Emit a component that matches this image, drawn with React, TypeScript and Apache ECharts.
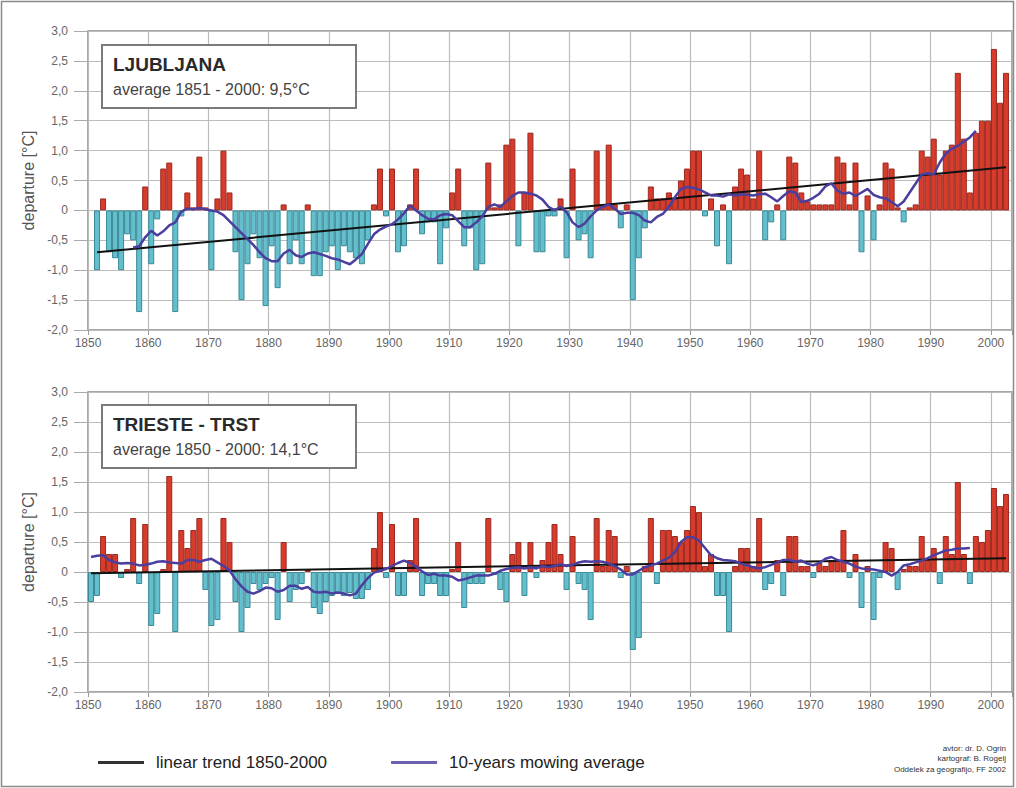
import React, { useEffect, useRef } from "react";
import * as echarts from "echarts";

// ---------- data ----------
const LJ_START = 1851;
const LJ_VALUES = [
  -1.0, 0.2, -0.7, -0.8, -1.0, -0.4, -0.5, -1.7, 0.4, -0.9,
  -0.15, 0.7, 0.8, -1.7, -0.1, 0.3, 0.05, 0.9, 0.05, -1.0,
  0.2, 1.0, 0.3, -0.7, -1.5, -0.9, -0.4, -0.8, -1.6, -0.6,
  -1.3, 0.1, -0.9, -0.5, -0.9, 0.1, -1.1, -1.1, -0.7, -0.6,
  -1.0, -0.6, -0.7, -0.8, -0.9, -0.5, 0.1, 0.7, -0.1, 0.7,
  -0.7, -0.6, 0.1, 0.7, -0.4, -0.2, -0.2, -0.9, -0.3, 0.3,
  0.7, -0.6, -0.3, -1.0, -0.9, 0.8, 0.05, 0.1, 1.1, 1.2,
  -0.6, 0.3, 1.3, -0.7, -0.7, -0.1, -0.1, 0.2, -0.8, 0.7,
  -0.5, -0.4, -0.8, 1.0, 0.1, 1.1, 0.1, -0.3, 0.1, -1.5,
  -0.8, -0.3, 0.4, 0.2, 0.2, 0.3, 0.2, 0.5, 0.7, 1.0,
  1.0, -0.1, 0.2, -0.6, 0.1, -0.9, 0.4, 0.7, 0.6, 0.2,
  1.0, -0.5, -0.2, 0.1, -0.5, 0.9, 0.8, 0.3, 0.15, 0.1,
  0.1, 0.1, 0.1, 0.9, 0.8, 0.1, 0.8, -0.7, 0.25, -0.5,
  0.1, 0.8, 0.7, 0.05, -0.2, 0.05, 0.1, 1.0, 0.9, 1.2,
  0.6, 1.0, 1.1, 2.3, 1.2, 0.3, 1.3, 1.5, 1.5, 2.7,
  1.8, 2.3,
];

const TS_START = 1850;
const TS_VALUES = [
  -0.5, -0.4, 0.6, 0.3, 0.3, -0.1, 0.05, 0.9, -0.2, 0.8,
  -0.9, -0.7, 0.05, 1.6, -1.0, 0.7, 0.4, 0.7, 0.9, -0.3,
  -0.9, -0.8, 0.9, 0.5, -0.5, -1.0, -0.6, -0.2, -0.3, -0.2,
  -0.1, -0.8, 0.5, -0.5, -0.3, -0.2, 0.05, -0.6, -0.7, -0.5,
  -0.4, -0.35, -0.4, -0.35, -0.45, -0.45, -0.3, 0.4, 1.0, -0.1,
  0.8, -0.4, -0.4, 0.2, 0.9, -0.4, -0.2, -0.2, -0.4, -0.4,
  0.05, 0.5, -0.6, -0.2, -0.2, -0.2, 0.9, -0.05, -0.3, -0.5,
  0.3, 0.5, -0.4, 0.5, -0.1, 0.2, 0.5, 0.8, 0.3, -0.3,
  0.6, -0.2, -0.3, -0.8, 0.9, 0.1, 0.7, 0.6, -0.1, 0.1,
  -1.3, -1.1, 0.1, 0.9, -0.2, 0.7, 0.7, 0.6, 0.5, 0.7,
  1.1, 1.0, 0.1, 0.3, -0.4, -0.4, -1.0, 0.1, 0.4, 0.4,
  0.1, 0.9, -0.3, -0.2, 0.2, -0.4, 0.6, 0.6, 0.1, 0.1,
  -0.1, 0.15, 0.1, 0.2, 0.2, 0.7, -0.1, 0.3, -0.6, 0.1,
  -0.8, -0.1, 0.5, 0.4, -0.3, 0.05, 0.1, 0.1, 0.6, 0.2,
  0.4, -0.2, 0.6, 0.3, 1.5, 0.3, -0.2, 0.6, 0.5, 0.7,
  1.4, 1.1, 1.3,
];

const LJ_MA_START = 1857;
const LJ_MA = [
  -0.62, -0.6, -0.45, -0.34, -0.42, -0.35, -0.25, -0.2, -0.02, 0.03,
  0.02, 0.04, 0.02, 0.0, -0.02, -0.08, -0.18, -0.28, -0.38, -0.48,
  -0.58, -0.7, -0.8, -0.85, -0.85, -0.72, -0.66, -0.75, -0.78, -0.72,
  -0.7, -0.73, -0.76, -0.8, -0.82, -0.86, -0.9, -0.82, -0.73, -0.56,
  -0.4, -0.32, -0.27, -0.23, -0.15, -0.05, 0.08, 0.0, -0.08, -0.14,
  -0.15, -0.08, -0.06, -0.08, -0.18, -0.28, -0.28, -0.2, -0.1, 0.06,
  0.1, 0.06, 0.15, 0.24, 0.3, 0.3, 0.28, 0.25, 0.18, 0.06,
  0.0, 0.06, -0.03, -0.2, -0.28, -0.22, -0.1, 0.0, 0.06, 0.1,
  0.03, -0.06, -0.04, -0.04, -0.08, -0.17, -0.2, -0.11, -0.06, 0.06,
  0.22, 0.36, 0.39, 0.38, 0.35, 0.3, 0.25, 0.25, 0.23, 0.27,
  0.25, 0.27, 0.26, 0.25, 0.27, 0.28, 0.22, 0.15, 0.24, 0.32,
  0.3, 0.14, 0.16, 0.21, 0.28, 0.4, 0.45, 0.33, 0.28, 0.3,
  0.24, 0.3, 0.36, 0.26, 0.22, 0.2, 0.14, 0.07, 0.15, 0.3,
  0.45, 0.6, 0.62, 0.6, 0.8, 0.95, 1.03, 1.08, 1.15, 1.22,
  1.33,
];

const TS_MA_START = 1850;
const TS_MA = [
  0.25, 0.27, 0.28, 0.2, 0.16, 0.14, 0.15, 0.14, 0.11, 0.12,
  0.14, 0.17, 0.18, 0.16, 0.15, 0.14, 0.2, 0.2, 0.17, 0.2,
  0.22, 0.16, 0.1, 0.03, -0.12, -0.24, -0.33, -0.36, -0.32, -0.26,
  -0.27, -0.33, -0.3, -0.23, -0.23, -0.28, -0.25, -0.33, -0.34, -0.33,
  -0.36, -0.34, -0.36, -0.39, -0.36, -0.22, -0.1, -0.01, 0.02, 0.05,
  0.1, 0.15, 0.19, 0.15, 0.09, 0.01, -0.05, -0.03, -0.06, -0.06,
  -0.08, -0.14, -0.12, -0.09, -0.06, -0.06, -0.06, -0.03, 0.02, 0.05,
  0.07, 0.08, 0.06, 0.08, 0.06, 0.1, 0.08, 0.1, 0.13, 0.1,
  0.12, 0.16, 0.18, 0.17, 0.18, 0.17, 0.14, 0.1, 0.04, -0.04,
  -0.04, 0.02, 0.08, 0.11, 0.14, 0.19, 0.24, 0.33, 0.5, 0.58,
  0.58, 0.52, 0.4, 0.28, 0.23, 0.2, 0.19, 0.18, 0.14, 0.11,
  0.08, 0.06, 0.08, 0.12, 0.16, 0.2, 0.2, 0.17, 0.19, 0.14,
  0.11, 0.15, 0.22, 0.25, 0.2, 0.17, 0.14, 0.09, 0.06, 0.05,
  0.04, 0.02, 0.0, -0.06, 0.0, 0.11, 0.13, 0.16, 0.19, 0.23,
  0.28, 0.32, 0.36, 0.37, 0.39, 0.39, 0.4,
];

const LJ_TREND_YEARS = [1851, 2002];
const LJ_TREND_VALUES = [-0.7, 0.72];
const TS_TREND_YEARS = [1850, 2002];
const TS_TREND_VALUES = [-0.02, 0.23];

const X_MIN = 1850;
const X_MAX = 2003.5;
const X_STEP = 10;
const Y_MIN = -2;
const Y_MAX = 3;
const Y_STEP = 0.5;

const TREND_NAME = "linear trend 1850-2000";
const MA_NAME = "10-years mowing average";

// ---------- styles ----------
const FONT = "'Liberation Sans', Arial, Helvetica, sans-serif";
const RED = "#d63b2c";
const RED_BORDER = "#9a2a1f";
const TEAL = "#63bfcd";
const TEAL_BORDER = "#3a8995";
const MA_COLOR = "#4a3e9e";
const GRID_COLOR = "#bcbcbc";

const barData = (start: number, vals: number[]) =>
  vals.map((v, i) => ({
    value: [start + i + 0.5, v],
    itemStyle:
      v >= 0
        ? { color: RED, borderColor: RED_BORDER, borderWidth: 1 }
        : { color: TEAL, borderColor: TEAL_BORDER, borderWidth: 1 },
  }));

const lineData = (start: number, vals: number[]) =>
  vals.map((v, i) => [start + i + 0.5, v]);

const trendData = (years: number[], vals: number[]) =>
  years.map((y, i) => [y + 0.5, vals[i]]);

const yFmt = (v: number) =>
  Math.abs(v) < 1e-9 ? "0" : v.toFixed(1).replace(".", ",");
const xFmt = (v: number) =>
  Math.abs(v % 10) < 1e-9 && v <= 2000 ? String(Math.round(v)) : "";

function buildOption() {
  const gridTops = [31, 392];
  const gridHeights = [299, 300];
  const grid = gridTops.map((t, i) => ({
    left: 88,
    top: t,
    width: 924,
    height: gridHeights[i],
    show: true,
    backgroundColor: "#ffffff",
    borderColor: "#8a8a8a",
    borderWidth: 1.5,
  }));
  const xAxis = [0, 1].map((i) => ({
    type: "value",
    gridIndex: i,
    min: X_MIN,
    max: X_MAX,
    interval: X_STEP,
    axisLine: { show: false, onZero: false },
    axisTick: { show: true, length: 5, lineStyle: { color: "#999" } },
    axisLabel: {
      margin: 7,
      color: "#666",
      fontSize: 12,
      fontFamily: FONT,
      formatter: xFmt,
    },
    splitLine: { show: true, lineStyle: { color: GRID_COLOR, width: 1.2 } },
  }));
  const yAxis = [0, 1].map((i) => ({
    type: "value",
    gridIndex: i,
    min: Y_MIN,
    max: Y_MAX,
    interval: Y_STEP,
    name: "departure [°C]",
    nameLocation: "middle",
    nameGap: 50,
    nameRotate: 90,
    nameTextStyle: { color: "#555", fontSize: 16, fontFamily: FONT },
    axisLine: { show: false },
    axisTick: { show: true, length: 14, lineStyle: { color: "#aaa" } },
    axisLabel: {
      margin: 20,
      color: "#666",
      fontSize: 12,
      fontFamily: FONT,
      formatter: yFmt,
    },
    splitLine: { show: true, lineStyle: { color: GRID_COLOR, width: 1.2 } },
  }));

  const panels = [
    { start: LJ_START, vals: LJ_VALUES, maStart: LJ_MA_START, ma: LJ_MA, ty: LJ_TREND_YEARS, tv: LJ_TREND_VALUES },
    { start: TS_START, vals: TS_VALUES, maStart: TS_MA_START, ma: TS_MA, ty: TS_TREND_YEARS, tv: TS_TREND_VALUES },
  ];
  const series: any[] = [];
  panels.forEach((p, i) => {
    series.push({
      type: "bar",
      name: "departure",
      xAxisIndex: i,
      yAxisIndex: i,
      barWidth: 6,
      data: barData(p.start, p.vals),
      z: 2,
    });
    series.push({
      type: "line",
      name: TREND_NAME,
      xAxisIndex: i,
      yAxisIndex: i,
      data: trendData(p.ty, p.tv),
      symbol: "none",
      itemStyle: { color: "#333" },
      lineStyle: { color: "#111", width: 2 },
      z: 3,
    });
    series.push({
      type: "line",
      name: MA_NAME,
      xAxisIndex: i,
      yAxisIndex: i,
      data: lineData(p.maStart, p.ma),
      symbol: "none",
      itemStyle: { color: "#6a62ae" },
      lineStyle: { color: MA_COLOR, width: 2.5 },
      z: 4,
    });
  });

  const boxes = [
    { y: 45, title: "LJUBLJANA", sub: "average 1851 - 2000: 9,5°C" },
    { y: 405, title: "TRIESTE - TRST", sub: "average 1850 - 2000: 14,1°C" },
  ];
  const graphic: any[] = [
    {
      type: "rect",
      silent: true,
      z: 100,
      shape: { x: 1.5, y: 1.5, width: 1012, height: 785 },
      style: { fill: "none", stroke: "#8a8a8a", lineWidth: 1.5 },
    },
  ];
  boxes.forEach((b) => {
    graphic.push({
      type: "rect",
      silent: true,
      z: 100,
      shape: { x: 102, y: b.y, width: 254, height: 63 },
      style: { fill: "#fff", stroke: "#7a7a7a", lineWidth: 2 },
    });
    graphic.push({
      type: "text",
      silent: true,
      z: 101,
      x: 113,
      y: b.y + 19,
      style: {
        text: b.title,
        fontSize: 19,
        fontWeight: "bold",
        fontFamily: FONT,
        fill: "#2a2a2a",
        verticalAlign: "middle",
      },
    });
    graphic.push({
      type: "text",
      silent: true,
      z: 101,
      x: 113,
      y: b.y + 44,
      style: {
        text: b.sub,
        fontSize: 16,
        fontFamily: FONT,
        fill: "#444",
        verticalAlign: "middle",
      },
    });
  });
  const credits = ["avtor: dr. D. Ogrin", "kartograf: B. Rogelj", "Oddelek za geografijo, FF 2002"];
  credits.forEach((c, i) => {
    graphic.push({
      type: "text",
      silent: true,
      z: 101,
      x: 1006,
      y: 748 + i * 10.5,
      style: {
        text: c,
        fontSize: 8,
        fontFamily: FONT,
        fill: "#333",
        align: "right",
        verticalAlign: "middle",
      },
    });
  });

  return {
    animation: false,
    backgroundColor: "#ffffff",
    grid,
    xAxis,
    yAxis,
    series,
    legend: {
      left: 93,
      top: 749,
      icon: "rect",
      itemWidth: 46,
      itemHeight: 3,
      itemGap: 64,
      selectedMode: false,
      data: [TREND_NAME, MA_NAME],
      textStyle: { fontSize: 17, color: "#222", fontFamily: FONT, padding: [0, 0, 0, 7] },
    },
    graphic,
  };
}

export default function App() {
  const ref = useRef<HTMLDivElement>(null);
  useEffect(() => {
    if (!ref.current) return;
    const chart = echarts.init(ref.current, undefined, { renderer: "svg" });
    chart.setOption(buildOption() as any);
    return () => chart.dispose();
  }, []);
  return (
    <div
      ref={ref}
      style={{ position: "absolute", left: 0, top: 0, width: 1016, height: 788, background: "#fff" }}
    />
  );
}
